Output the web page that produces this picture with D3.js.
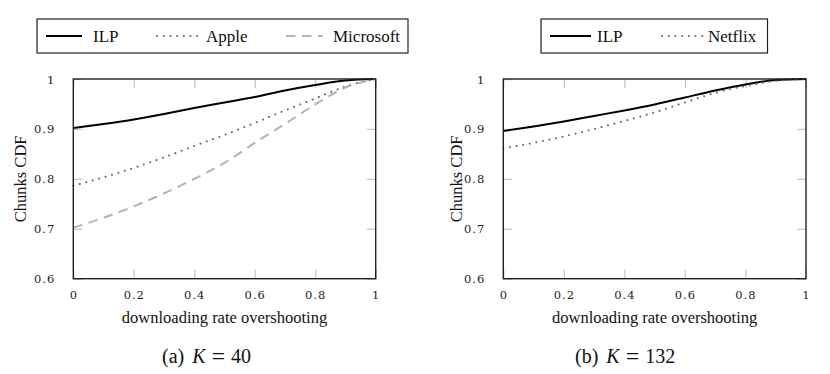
<!DOCTYPE html>
<html><head><meta charset="utf-8">
<script src="https://cdn.jsdelivr.net/npm/d3@7"></script>
<style>
body{margin:0;background:#fff}svg{display:block}
.serif{font-family:"Liberation Serif","Times New Roman",Times,serif}
.tickf{font-family:"DejaVu Serif",serif}
</style>
</head><body>
<svg id="c" width="830" height="374"></svg>
<script>
// ---- data ----
const xValues = [0, 0.1, 0.2, 0.3, 0.4, 0.5, 0.6, 0.7, 0.8, 0.9, 1.0];
const ilpA =       [0.902, 0.910, 0.919, 0.930, 0.942, 0.953, 0.964, 0.977, 0.988, 0.997, 1.0];
const apple =      [0.786, 0.803, 0.822, 0.843, 0.866, 0.888, 0.912, 0.937, 0.961, 0.985, 1.0];
const microsoft =  [0.702, 0.722, 0.745, 0.771, 0.800, 0.832, 0.872, 0.910, 0.949, 0.983, 1.0];
const ilpB =       [0.896, 0.905, 0.915, 0.926, 0.937, 0.949, 0.963, 0.977, 0.989, 0.998, 1.0];
const netflix =    [0.861, 0.872, 0.885, 0.900, 0.916, 0.933, 0.953, 0.972, 0.986, 0.996, 1.0];
const xTicks = [0, 0.2, 0.4, 0.6, 0.8, 1];
const yTicks = [0.6, 0.7, 0.8, 0.9, 1];
const xTickLabels = ["0", "0.2", "0.4", "0.6", "0.8", "1"];
const yTickLabels = ["0.6", "0.7", "0.8", "0.9", "1"];
const yTitle = "Chunks CDF";
const xTitle = "downloading rate overshooting";
const captionA = ["(a)", "K", "=", "40"];
const captionB = ["(b)", "K", "=", "132"];

const styles = {
  ILP: {stroke: "#000", width: 2, dash: null, cap: "butt"},
  Apple: {stroke: "#6a6a6a", width: 2, dash: "0.1 6.6", cap: "round"},
  Microsoft: {stroke: "#b3b3b3", width: 2, dash: "9.5 6.5", cap: "butt"},
  Netflix: {stroke: "#6a6a6a", width: 2, dash: "0.1 6.6", cap: "round"}
};

const panels = [
  {left: 73.3, right: 375.7, series: [["ILP", ilpA], ["Apple", apple], ["Microsoft", microsoft]],
   caption: captionA, capX: 162, yTitleX: 20.8,
   legend: {x0: 37, x1: 408, items: [[46, 82, 93], [157, 202, 206], [286, 323, 333]]}},
  {left: 503.3, right: 806, series: [["ILP", ilpB], ["Netflix", netflix]],
   caption: captionB, capX: 575, yTitleX: 456.7,
   legend: {x0: 541, x1: 767.5, items: [[550, 591, 597], [662, 705, 708]]}}
];

const svg = d3.select("#c");
const plotTop = 79, plotBottom = 278.7;

panels.forEach(p => {
  const x = d3.scaleLinear().domain([0, 1]).range([p.left, p.right]);
  const y = d3.scaleLinear().domain([0.6, 1]).range([plotBottom, plotTop]);
  const g = svg.append("g");

  // inward ticks on all four sides
  const tl = 9;
  const tickStyle = s => s.attr("stroke", "#c8c8c8").attr("stroke-width", 1.3);
  const gx = g.append("g").attr("transform", `translate(0,${plotBottom})`)
    .call(d3.axisBottom(x).tickValues(xTicks).tickSize(-tl).tickFormat((d, i) => xTickLabels[i]).tickPadding(tl + 7));
  const gxt = g.append("g").attr("transform", `translate(0,${plotTop})`)
    .call(d3.axisTop(x).tickValues(xTicks).tickSize(-tl).tickFormat(""));
  const gy = g.append("g").attr("transform", `translate(${p.left},0)`)
    .call(d3.axisLeft(y).tickValues(yTicks).tickSize(-tl).tickFormat((d, i) => yTickLabels[i]).tickPadding(tl + 9));
  const gyr = g.append("g").attr("transform", `translate(${p.right},0)`)
    .call(d3.axisRight(y).tickValues(yTicks).tickSize(-tl).tickFormat(""));
  [gx, gxt, gy, gyr].forEach(a => {
    a.attr("font-family", null).attr("font-size", null);
    a.select(".domain").remove();
    a.selectAll(".tick line").call(tickStyle);
    a.selectAll(".tick text").attr("class", "tickf").style("font-size", "11.5px")
      .attr("fill", "#222").style("letter-spacing", "1px");
  });
  gx.selectAll(".tick text").attr("dy", "0.35em");
  gy.selectAll(".tick text").attr("dy", "0.35em");

  // lines
  p.series.forEach(([name, vals]) => {
    const st = styles[name];
    const line = d3.line().x((d, i) => x(xValues[i])).y(d => y(d)).curve(d3.curveMonotoneX);
    g.append("path").datum(vals).attr("d", line).attr("fill", "none")
      .attr("stroke", st.stroke).attr("stroke-width", st.width)
      .attr("stroke-dasharray", st.dash).attr("stroke-linecap", st.cap);
  });

  // frame
  g.append("rect").attr("x", p.left).attr("y", plotTop).attr("width", p.right - p.left).attr("height", plotBottom - plotTop)
    .attr("fill", "none").attr("stroke", "#222").attr("stroke-width", 1.4);

  // titles
  g.append("text").attr("class", "serif").attr("x", (p.left + p.right) / 2).attr("y", 323).attr("text-anchor", "middle")
    .style("font-size", "16.5px").attr("fill", "#111").text(xTitle);
  g.append("text").attr("class", "serif").attr("transform", `translate(${p.yTitleX + 5.5},${(plotTop + plotBottom) / 2}) rotate(-90)`)
    .attr("text-anchor", "middle").style("font-size", "16.5px").attr("fill", "#111").text(yTitle);

  // caption
  const cap = g.append("text").attr("class", "serif").attr("x", p.capX).attr("y", 363)
    .style("font-size", "20px").attr("fill", "#111");
  cap.append("tspan").text(p.caption[0]);
  cap.append("tspan").attr("dx", 8).attr("font-style", "italic").text(p.caption[1]);
  cap.append("tspan").attr("dx", 6).style("font-size", "24px").attr("dy", 1).text(p.caption[2]);
  cap.append("tspan").attr("dx", 6).attr("dy", -1).text(p.caption[3]);

  // legend
  const L = p.legend;
  g.append("rect").attr("x", L.x0).attr("y", 19).attr("width", L.x1 - L.x0).attr("height", 34)
    .attr("fill", "#fff").attr("stroke", "#222").attr("stroke-width", 1.2);
  p.series.forEach(([name], i) => {
    const st = styles[name];
    const it = L.items[i];
    g.append("line").attr("x1", it[0]).attr("x2", it[1]).attr("y1", 36).attr("y2", 36)
      .attr("stroke", st.stroke).attr("stroke-width", st.width)
      .attr("stroke-dasharray", st.dash).attr("stroke-linecap", st.cap);
    g.append("text").attr("class", "serif").attr("x", it[2]).attr("y", 41.5)
      .style("font-size", "17px").attr("fill", "#111").text(name);
  });
});
</script>
</body></html>
